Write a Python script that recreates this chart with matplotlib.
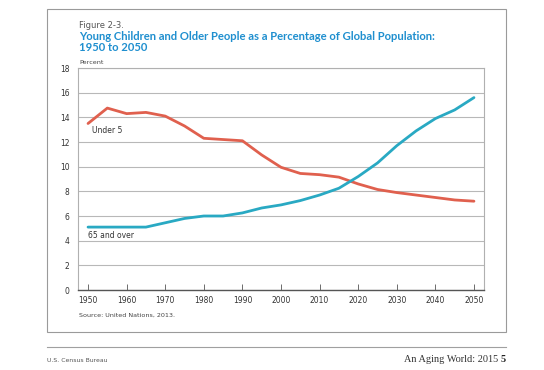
import matplotlib.pyplot as plt
from matplotlib.patches import Rectangle
from matplotlib.lines import Line2D

# --- data ---
years = [1950, 1955, 1960, 1965, 1970, 1975, 1980, 1985, 1990, 1995, 2000,
         2005, 2010, 2015, 2020, 2025, 2030, 2035, 2040, 2045, 2050]
under5 = [13.5, 14.75, 14.3, 14.4, 14.1, 13.3, 12.3, 12.2, 12.1, 10.95, 9.95,
          9.45, 9.35, 9.15, 8.6, 8.15, 7.9, 7.7, 7.5, 7.3, 7.2]
over65 = [5.1, 5.1, 5.1, 5.1, 5.45, 5.8, 6.0, 6.0, 6.25, 6.65, 6.9,
          7.25, 7.7, 8.25, 9.2, 10.3, 11.7, 12.9, 13.9, 14.6, 15.6]
x_ticks = [1950, 1960, 1970, 1980, 1990, 2000, 2010, 2020, 2030, 2040, 2050]
y_ticks = [0, 2, 4, 6, 8, 10, 12, 14, 16, 18]

red = '#e0604e'
blue = '#29a9c3'
grid_grey = '#b8b8b8'

fig = plt.figure(figsize=(5.44, 3.70), dpi=100)

# outer frame of the figure panel and footer rule
fig.patches.append(Rectangle((47 / 544, 1 - 332 / 370), 459 / 544, 323 / 370,
                             transform=fig.transFigure, fill=False,
                             edgecolor='#9a9a9a', linewidth=0.8))
fig.lines.append(Line2D([47 / 544, 506 / 544], [1 - 347 / 370, 1 - 347 / 370],
                        transform=fig.transFigure, color='#a0a0a0', linewidth=0.8))

ax = fig.add_axes([78 / 544, 1 - 290 / 370, 406 / 544, 222 / 370])
ax.plot(years, under5, color=red, linewidth=2.0, solid_capstyle='round', zorder=3)
ax.plot(years, over65, color=blue, linewidth=2.0, solid_capstyle='round', zorder=3)

ax.set_xlim(1947.4, 2052.6)
ax.set_ylim(0, 18)
ax.set_xticks(x_ticks)
ax.set_yticks(y_ticks)
ax.tick_params(axis='x', direction='in', length=4, width=0.6, color='#555555',
               labelsize=5.5, labelcolor='#333333', pad=4)
ax.tick_params(axis='y', length=0, labelsize=5.5, labelcolor='#333333', pad=6)
ax.yaxis.grid(True, color=grid_grey, linewidth=0.8)
ax.set_axisbelow(True)
for side in ['left', 'top', 'right']:
    ax.spines[side].set_color('#b0b0b0')
    ax.spines[side].set_linewidth(0.8)
ax.spines['bottom'].set_color('#555555')
ax.spines['bottom'].set_linewidth(1.0)

# series labels
ax.text(1951.0, 12.95, 'Under 5', fontsize=5.5, color='#333333', va='center')
ax.text(1950.0, 4.4, '65 and over', fontsize=5.5, color='#333333', va='center')

# titles
fig.text(79 / 544, 1 - 25 / 370, 'Figure 2-3.', fontsize=6.0, color='#555555', va='center')
fig.text(79 / 544, 1 - 36 / 370,
         'Young Children and Older People as a Percentage of Global Population:',
         fontsize=8.1, family='Lato', color='#1f8fcf', fontweight='bold', va='center')
fig.text(79 / 544, 1 - 47.5 / 370, '1950 to 2050',
         fontsize=8.1, family='Lato', color='#1f8fcf', fontweight='bold', va='center')
fig.text(79 / 544, 1 - 62 / 370, 'Percent', fontsize=4.6, color='#444444', va='center')

fig.text(79 / 544, 1 - 315 / 370, 'Source: United Nations, 2013.',
         fontsize=4.6, color='#444444', va='center')

# footer
fig.text(47 / 544, 1 - 360 / 370, 'U.S. Census Bureau', fontsize=4.4,
         color='#555555', va='center')
fig.text(498 / 544, 1 - 360 / 370, 'An Aging World: 2015', fontsize=7.4,
         family='Liberation Serif', color='#333333', va='center', ha='right')
fig.text(506 / 544, 1 - 360 / 370, '5', fontsize=7.4, family='Liberation Serif',
         fontweight='bold', color='#222222', va='center', ha='right')

fig.savefig('out.png', dpi=100)
